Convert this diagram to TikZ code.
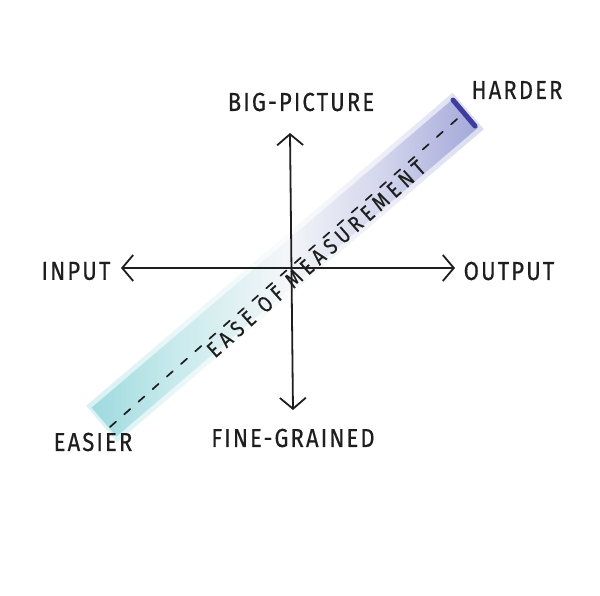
\documentclass[tikz,border=0pt]{standalone}
\usepackage{fontspec}
\setmainfont{Fira Sans}
\usetikzlibrary{arrows.meta,calc}
\definecolor{ink}{HTML}{1E1E1E}
\definecolor{bandlow}{HTML}{7FCFD5}
\definecolor{bandmid}{HTML}{F1F4F7}
\definecolor{bandhigh}{HTML}{858CCD}
\definecolor{capblue}{HTML}{3F3C9F}
\pgfdeclarehorizontalshading{bandshade}{100bp}{color(0bp)=(bandlow); color(25bp)=(bandlow); color(36bp)=(bandlow!55!white); color(50bp)=(bandmid); color(62bp)=(bandhigh!45!white); color(75bp)=(bandhigh); color(100bp)=(bandhigh)}
\tikzset{
  lbl/.style={font=\fontsize{26}{26}\selectfont\addfontfeature{FakeStretch=0.85,LetterSpace=8,FakeBold=0.4}, text=ink, inner sep=0pt},
  axisline/.style={draw=ink, line width=1.8pt, {Straight Barb[length=11pt,width=26pt,line width=1.8pt]}-{Straight Barb[length=11pt,width=26pt,line width=1.8pt]}},
  dashline/.style={draw=ink, line width=1.7pt, dash pattern=on 8pt off 11pt, line cap=round},
  bandpart/.style={rotate=40.5, inner sep=0pt, shading=bandshade},
}
\begin{document}
\begin{tikzpicture}[x=1pt,y=-1pt]
\useasboundingbox (0,0) rectangle (600,596);
\fill[white] (0,0) rectangle (600,596);
% band
\coordinate (bandlowend) at (100,422);
\coordinate (bandhighend) at (470,113);
\coordinate (bandcenter) at ($(bandlowend)!0.5!(bandhighend)$);
\node[bandpart, minimum width=482pt, minimum height=48pt, opacity=0.3] (bandouter) at (bandcenter) {};
\node[bandpart, minimum width=476pt, minimum height=38pt, opacity=0.65] (band) at (bandcenter) {};
\coordinate (capa) at (453,100);
\coordinate (capb) at (475,126);
\draw[capblue, line width=5pt, line cap=round] (capa) -- (capb);
% axes
\coordinate (axl) at (121,268);
\coordinate (axr) at (455,268);
\coordinate (axt) at (290,133);
\coordinate (axb) at (293,410);
\draw[axisline] (axl) -- (axr);
\draw[axisline] (axt) -- (axb);
% dashed measurement line
\coordinate (da) at (110,427);
\coordinate (db) at (465,112);
\draw[dashline] (da) -- (db);
\node[font=\fontsize{22}{22}\selectfont\addfontfeature{FakeStretch=0.85,LetterSpace=24,FakeBold=0.4}, text=ink, inner sep=3pt,
  rotate=41.6, anchor=north] (ease) at ($(da)!0.56!(db)$) {EASE OF MEASUREMENT};
% labels
\node[lbl] (big) at (301,102) {BIG-PICTURE};
\node[lbl] (harder) at (517,90) {HARDER};
\node[lbl] (input) at (76,271) {INPUT};
\node[lbl] (output) at (509,271) {OUTPUT};
\node[lbl] (easier) at (93,442) {EASIER};
\node[lbl] (fine) at (293,438) {FINE-GRAINED};
\end{tikzpicture}
\end{document}
